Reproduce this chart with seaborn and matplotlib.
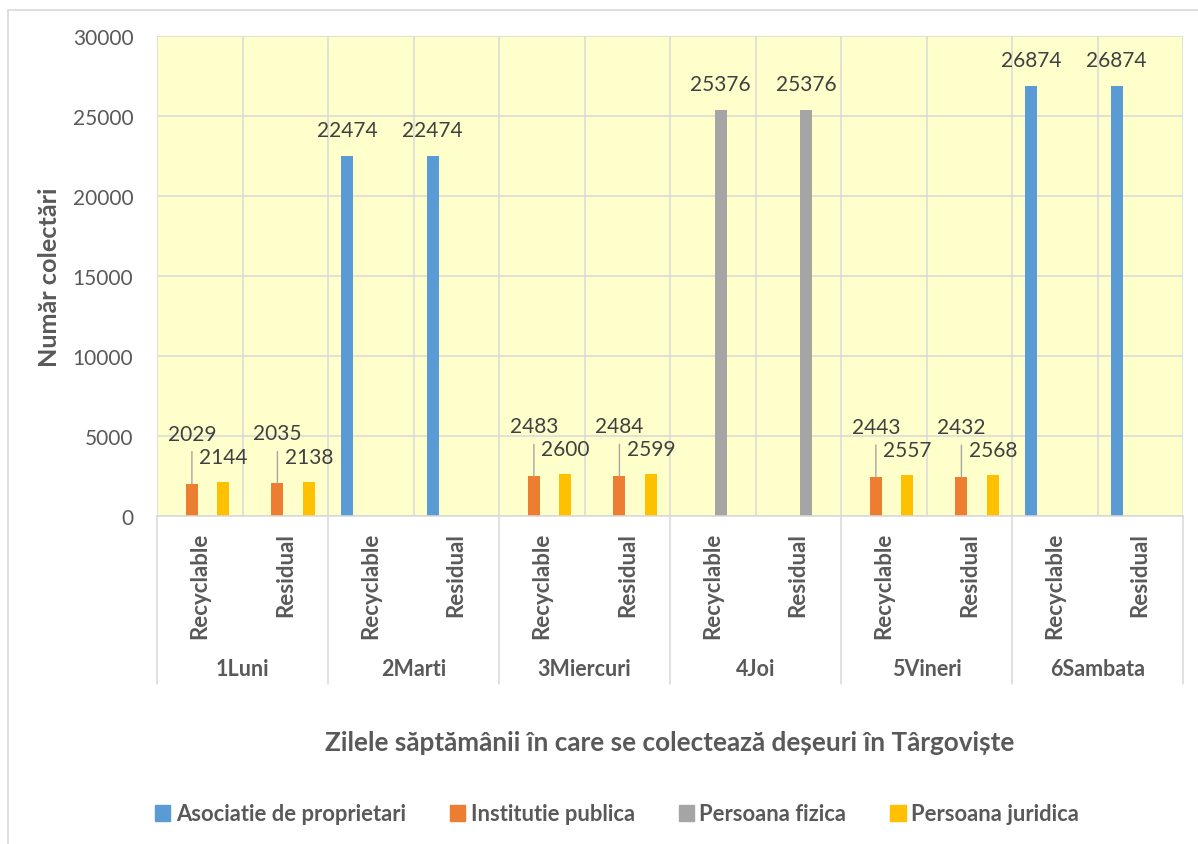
import numpy as np
import pandas as pd
import seaborn as sns
import matplotlib.pyplot as plt
from matplotlib.patches import Rectangle
import matplotlib.transforms as mtransforms

# data
days = ['1Luni', '2Marti', '3Miercuri', '4Joi', '5Vineri', '6Sambata']
waste_types = ['Recyclable', 'Residual']
series = ['Asociatie de proprietari', 'Institutie publica', 'Persoana fizica', 'Persoana juridica']
colors = ['#5B9BD5', '#ED7D31', '#A5A5A5', '#FFC000']

# one value per (day, waste type), in order Luni-Rec, Luni-Res, Marti-Rec, ...
asociatie = [0, 0, 22474, 22474, 0, 0, 0, 0, 0, 0, 26874, 26874]
institutie = [2029, 2035, 0, 0, 2483, 2484, 0, 0, 2443, 2432, 0, 0]
fizica = [0, 0, 0, 0, 0, 0, 25376, 25376, 0, 0, 0, 0]
juridica = [2144, 2138, 0, 0, 2600, 2599, 0, 0, 2557, 2568, 0, 0]

cats = [f'{d}|{w}' for d in days for w in waste_types]
rows = []
for name, vals in zip(series, [asociatie, institutie, fizica, juridica]):
    for c, v in zip(cats, vals):
        rows.append({'cat': c, 'series': name, 'value': v})
df = pd.DataFrame(rows)

sns.set_style('white')
plt.rcParams['font.family'] = ['Lato', 'DejaVu Sans']

text_gray = '#595959'
grid_gray = '#D9D9D9'

fig = plt.figure(figsize=(11.98, 8.45), dpi=100)
W, H = 1198, 845
ax = fig.add_axes([157 / W, 1 - 517 / H, (1183 - 157) / W, (517 - 37) / H])

sns.barplot(data=df, x='cat', y='value', hue='series', order=cats, hue_order=series,
            palette=colors, width=0.734, gap=0.24, errorbar=None, linewidth=0,
            saturation=1, ax=ax)
ax.get_legend().remove()

ax.set_facecolor('#FFFFCC')
ax.set_ylim(0, 30000)
ax.set_xlim(-0.5, len(cats) - 0.5)
ax.set_yticks(np.arange(0, 30001, 5000))
ax.tick_params(axis='y', length=0, pad=17, labelsize=15, labelcolor=text_gray)
ax.set_xticks([])
ax.set_xticks(np.arange(-0.5, len(cats), 1), minor=True)
ax.tick_params(axis='x', which='both', length=0, labelbottom=False)
ax.grid(axis='y', color=grid_gray, linewidth=1.1)
ax.grid(axis='x', which='minor', color=grid_gray, linewidth=1.1)
ax.set_axisbelow(True)
for s in ['top', 'right', 'left']:
    ax.spines[s].set_visible(False)
ax.spines['bottom'].set_color(grid_gray)
ax.spines['bottom'].set_linewidth(1.1)
ax.set_xlabel('')
ax.set_ylabel('')

# data labels (institutie labels sit higher, with a leader line)
offsets = {0: 26, 1: 50, 2: 26, 3: 25}
for si, cont in enumerate(ax.containers):
    for bar in cont.patches:
        v = bar.get_height()
        if v <= 0:
            continue
        xc = bar.get_x() + bar.get_width() / 2
        ax.annotate(f'{int(round(v))}', xy=(xc, v), xytext=(0, offsets[si]),
                    textcoords='offset pixels', ha='center', va='center',
                    fontsize=15, color='#404040', annotation_clip=False)
        if si == 1:
            ax.annotate('', xy=(xc, v), xytext=(0, 32), textcoords='offset pixels',
                        arrowprops=dict(arrowstyle='-', color='#A6A6A6', lw=1,
                                        shrinkA=0, shrinkB=0))

# multi-level category axis
blend = mtransforms.blended_transform_factory(ax.transData, ax.transAxes)
for i, c in enumerate(cats):
    ax.text(i, -16 / 480, c.split('|')[1], rotation=90, ha='center', va='top',
            fontsize=16, fontweight='bold', color=text_gray, transform=blend)
for k, d in enumerate(days):
    ax.text(2 * k + 0.5, -(670 - 517) / 480, d, ha='center', va='center',
            fontsize=15.5, fontweight='bold', color=text_gray, transform=blend)
for k in range(len(days) + 1):
    ax.plot([2 * k - 0.5, 2 * k - 0.5], [0, -(685 - 517) / 480], color=grid_gray,
            lw=1.1, transform=blend, clip_on=False)

fig.text(50 / W, 1 - 277 / H, 'Număr colectări', rotation=90, ha='center', va='center',
         fontsize=18.2, fontweight='bold', color=text_gray)
fig.text(670 / W, 1 - 743 / H, 'Zilele săptămânii în care se colectează deșeuri în Târgoviște',
         ha='center', va='center', fontsize=18.8, fontweight='bold', color=text_gray)

handles = [Rectangle((0, 0), 1, 1, color=c) for c in colors]
fig.legend(handles, series, loc='center', bbox_to_anchor=(617 / W, 1 - 815 / H), ncol=4,
           frameon=False, handlelength=0.7, handleheight=0.7, handletextpad=0.25,
           columnspacing=2.0, prop={'size': 15.8, 'weight': 'bold'}, labelcolor=text_gray)

fig.patches.append(Rectangle((8 / W, -0.1), 1.2, 1.1 - 11 / H, transform=fig.transFigure,
                             fill=False, edgecolor=grid_gray, lw=1.2))

plt.savefig('out.png', dpi=100)
